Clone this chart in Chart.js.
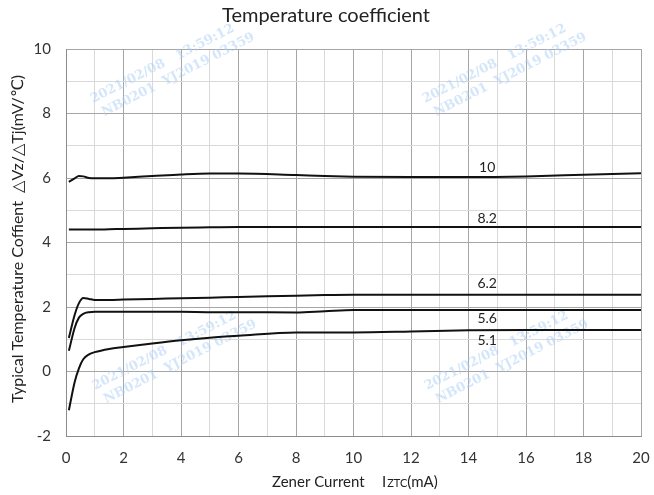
<!DOCTYPE html>
<html>
<head>
<meta charset="utf-8">
<script src="https://cdn.jsdelivr.net/npm/chart.js@4.4.1/dist/chart.umd.min.js"></script>
<style>
  html, body { margin: 0; padding: 0; background: #fff; }
  canvas { display: block; }
</style>
</head>
<body>
<canvas id="tc" width="654" height="495"></canvas>
<script>
// zener current (mA), shared by all curves
const current = [0.1, 0.3, 0.45, 0.6, 0.8, 1, 1.5, 2, 3, 4, 5, 6, 8, 9, 10, 12, 14, 16, 18, 20];

// temperature coefficient (mV/°C) per zener voltage
const vz10  = [5.88, 5.99, 6.06, 6.05, 6.00, 5.99, 5.99, 6.01, 6.06, 6.11, 6.14, 6.14, 6.09, 6.06, 6.04, 6.03, 6.03, 6.05, 6.10, 6.15];
const vz8_2 = [4.40, 4.40, 4.40, 4.40, 4.40, 4.40, 4.41, 4.42, 4.44, 4.46, 4.47, 4.48, 4.48, 4.48, 4.48, 4.48, 4.48, 4.48, 4.48, 4.48];
const vz6_2 = [1.04, 1.75, 2.12, 2.28, 2.25, 2.22, 2.22, 2.23, 2.25, 2.27, 2.29, 2.31, 2.35, 2.37, 2.38, 2.38, 2.38, 2.38, 2.38, 2.38];
const vz5_6 = [0.64, 1.35, 1.67, 1.79, 1.84, 1.85, 1.85, 1.85, 1.85, 1.85, 1.84, 1.84, 1.83, 1.87, 1.91, 1.91, 1.91, 1.91, 1.91, 1.91];
const vz5_1 = [-1.20, -0.33, 0.10, 0.38, 0.53, 0.60, 0.70, 0.76, 0.87, 0.97, 1.05, 1.11, 1.21, 1.21, 1.21, 1.24, 1.28, 1.29, 1.29, 1.29];

const seriesNames = ['10', '8.2', '6.2', '5.6', '5.1'];
const seriesValues = [vz10, vz8_2, vz6_2, vz5_6, vz5_1];
// where each curve name is written, in data units
const labelX = 14.65;
const labelY = [6.34, 4.76, 2.74, 1.63, 0.95];

const xTicks = [0, 2, 4, 6, 8, 10, 12, 14, 16, 18, 20];
const yTicks = [-2, 0, 2, 4, 6, 8, 10];

const FONT = "Lato, 'DejaVu Sans', 'Noto Sans CJK SC', sans-serif";

const datasets = seriesValues.map((vals, i) => ({
    label: seriesNames[i],
    data: vals.map((v, j) => ({ x: current[j], y: v })),
    borderColor: '#111',
    borderWidth: 2,
    pointRadius: 0,
    fill: false,
    cubicInterpolationMode: 'monotone'
}));

const gridColor = ctx => (ctx.tick && ctx.tick.value % 2 === 0) ? '#a6a6a6' : '#d9d9d9';

const decorations = {
    id: 'decorations',
    beforeDatasetsDraw(chart) {
        // faint watermark stamps
        const c = chart.ctx;
        const spots = [[93, 103], [425, 103], [95, 390], [427, 390]];
        c.save();
        c.fillStyle = 'rgba(170, 205, 245, 0.5)';
        c.font = "bold 13px 'DejaVu Serif', serif";
        spots.forEach(([sx, sy]) => {
            c.save();
            c.translate(sx, sy);
            c.rotate(-27 * Math.PI / 180);
            c.fillText('2021/02/08   13:59:12', 0, 0);
            c.fillText('NB0201  YJ2019 03359', 4, 17);
            c.restore();
        });
        c.restore();
    },
    afterDatasetsDraw(chart) {
        const c = chart.ctx;
        const xs = chart.scales.x, ys = chart.scales.y;
        c.save();
        c.fillStyle = '#222';
        c.font = '14px ' + FONT;
        c.textAlign = 'center';
        c.textBaseline = 'middle';
        seriesNames.forEach((n, i) => {
            c.fillText(n, xs.getPixelForValue(labelX), ys.getPixelForValue(labelY[i]));
        });
        c.restore();
    },
    afterDraw(chart) {
        const c = chart.ctx;
        c.save();
        c.fillStyle = '#222';
        c.textBaseline = 'middle';
        // title
        c.font = '20px ' + FONT;
        c.textAlign = 'center';
        c.fillText('Temperature coefficient', 326, 16);
        // y title
        c.save();
        c.translate(18, 239);
        c.rotate(-Math.PI / 2);
        c.font = '16px ' + FONT;
        c.fillText('Typical Temperature Coffient  \u25B3Vz/\u25B3Tj(mV/\u2103)', 0, 0);
        c.restore();
        // x title with small-cap subscript
        c.textAlign = 'left';
        c.font = '15px ' + FONT;
        c.fillText('Zener Current', 272, 482);
        let px = 382;
        c.fillText('I', px, 482);
        px += c.measureText('I').width + 1;
        c.font = '11px ' + FONT;
        c.fillText('ZTC', px, 483);
        px += c.measureText('ZTC').width;
        c.font = '15px ' + FONT;
        c.fillText('(mA)', px, 482);
        c.restore();
    }
};

new Chart(document.getElementById('tc'), {
    type: 'line',
    data: { datasets },
    plugins: [decorations],
    options: {
        responsive: false,
        animation: false,
        layout: { padding: { top: 49, right: 13, left: 0, bottom: 0 } },
        plugins: { legend: { display: false }, tooltip: { enabled: false } },
        scales: {
            x: {
                type: 'linear',
                min: 0, max: 20,
                afterFit: s => { s.height = 59; s.paddingLeft = 0; s.paddingRight = 0; },
                afterBuildTicks: s => {
                    s.ticks = [];
                    for (let v = 0; v <= 20; v++) s.ticks.push({ value: v });
                },
                ticks: {
                    autoSkip: false,
                    padding: 13,
                    color: '#333',
                    font: { family: FONT, size: 15 },
                    callback: v => xTicks.includes(v) ? String(v) : ''
                },
                grid: { color: gridColor, drawTicks: false, lineWidth: 1 },
                border: { color: '#8c8c8c' }
            },
            y: {
                type: 'linear',
                min: -2, max: 10,
                afterFit: s => { s.width = 66; },
                afterBuildTicks: s => {
                    s.ticks = [];
                    for (let v = -2; v <= 10; v++) s.ticks.push({ value: v });
                },
                ticks: {
                    autoSkip: false,
                    padding: 15,
                    color: '#333',
                    font: { family: FONT, size: 15 },
                    callback: v => yTicks.includes(v) ? String(v) : ''
                },
                grid: { color: gridColor, drawTicks: false, lineWidth: 1 },
                border: { color: '#8c8c8c' }
            }
        }
    }
});
</script>
</body>
</html>
